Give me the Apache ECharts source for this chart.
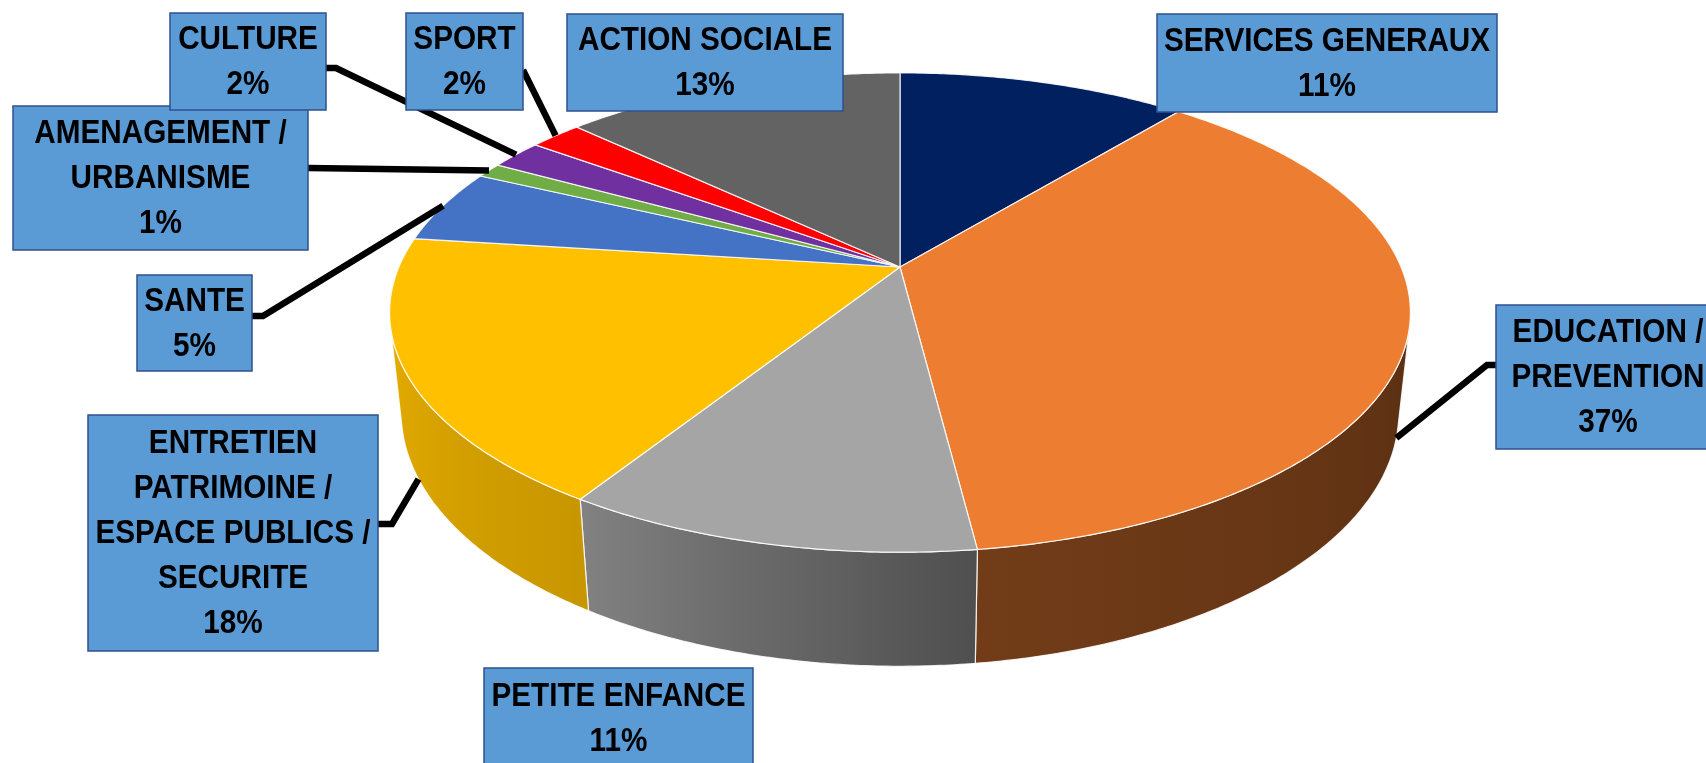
<!DOCTYPE html>
<html>
<head>
<meta charset="utf-8">
<script src="https://cdn.jsdelivr.net/npm/echarts@6/dist/echarts.min.js"></script>
<style>
  html, body { margin: 0; padding: 0; background: #fff; }
  #main { width: 1706px; height: 763px; }
</style>
</head>
<body>
<div id="main"></div>
<script>
// données (en %)
const categories = [
  'SERVICES GENERAUX',
  'EDUCATION /\nPREVENTION',
  'PETITE ENFANCE',
  'ENTRETIEN\nPATRIMOINE /\nESPACE PUBLICS /\nSECURITE',
  'SANTE',
  'AMENAGEMENT /\nURBANISME',
  'CULTURE',
  'SPORT',
  'ACTION SOCIALE'
];
const values = [11, 37, 11, 18, 5, 1, 2, 2, 13];
const colors = ['#002060', '#ED7D31', '#A5A5A5', '#FFC000', '#4472C4', '#70AD47', '#7030A0', '#FF0000', '#636363'];

// position des étiquettes : [x, y, largeur, hauteur]
const labelBoxes = [
  [1157, 14, 340, 98],
  [1496, 305, 224, 144],
  [484, 668, 269, 100],
  [88, 415, 290, 236],
  [137, 275, 115, 96],
  [13, 106, 295, 144],
  [170, 13, 156, 97],
  [406, 13, 117, 97],
  [567, 14, 276, 97]
];
// départ des traits de rappel (côté étiquette)
const leaderStarts = [
  null,
  [[1496, 365], [1487, 365]],
  null,
  [[378, 524], [392, 524]],
  [[252, 316], [263, 316]],
  [[308, 168]],
  [[326, 68], [336, 68]],
  [[523, 70]],
  null
];

// vue 3D (perspective simple)
const view = { cx: 900, cy: 267, F: 2340, d: 4.67, sa: 0.461, ca: 0.8874, h: 0.228 };

function proj(theta, r, y) {
  const x = r * Math.sin(theta);
  const z = -r * Math.cos(theta);
  const depth = view.d - (y * view.sa + z * view.ca);
  const yc = y * view.ca - z * view.sa;
  return [view.cx + view.F * x / depth, view.cy - view.F * yc / depth];
}

const total = values.reduce((a, b) => a + b, 0);
const starts = [], ends = [];
let acc = 0;
values.forEach(v => {
  starts.push(acc / total * Math.PI * 2);
  acc += v;
  ends.push(acc / total * Math.PI * 2);
});

// partie visible du côté
const zs = 1 / (view.d * view.ca);
const vis0 = Math.acos(-zs);
const vis1 = Math.PI * 2 - vis0;

// éclairage du côté selon l'angle
const shadeKeys = [[100, 0.38], [173, 0.48], [212, 0.78], [260, 0.9]];
function shadeFactor(theta) {
  const deg = theta * 180 / Math.PI;
  if (deg <= shadeKeys[0][0]) return shadeKeys[0][1];
  for (let i = 1; i < shadeKeys.length; i++) {
    if (deg <= shadeKeys[i][0]) {
      const t = (deg - shadeKeys[i - 1][0]) / (shadeKeys[i][0] - shadeKeys[i - 1][0]);
      return shadeKeys[i - 1][1] + t * (shadeKeys[i][1] - shadeKeys[i - 1][1]);
    }
  }
  return shadeKeys[shadeKeys.length - 1][1];
}
function shade(hex, f) {
  const n = parseInt(hex.slice(1), 16);
  const r = Math.round(((n >> 16) & 255) * f);
  const g = Math.round(((n >> 8) & 255) * f);
  const b = Math.round((n & 255) * f);
  return 'rgb(' + r + ',' + g + ',' + b + ')';
}

const step = Math.PI / 360;

function renderItem(params, api) {
  const i = params.dataIndex;
  const a0 = starts[i], a1 = ends[i];
  const color = colors[i];
  const children = [];

  // dessus
  const top = [proj(0, 0, 0)];
  const n = Math.max(2, Math.ceil((a1 - a0) / step));
  for (let k = 0; k <= n; k++) top.push(proj(a0 + (a1 - a0) * k / n, 1, 0));
  children.push({
    type: 'polygon', z2: 10,
    shape: { points: top },
    style: { fill: color, stroke: 'rgba(255,255,255,0.85)', lineWidth: 1.2 }
  });

  // côté
  const w0 = Math.max(a0, vis0), w1 = Math.min(a1, vis1);
  if (w1 > w0) {
    const m = Math.max(2, Math.ceil((w1 - w0) / step));
    const upper = [], lower = [];
    for (let k = 0; k <= m; k++) {
      const t = w0 + (w1 - w0) * k / m;
      upper.push(proj(t, 1, 0));
      lower.push(proj(t, 1, -view.h));
    }
    const pts = upper.concat(lower.reverse());
    const xs = pts.map(p => p[0]);
    const minX = Math.min.apply(null, xs), maxX = Math.max.apply(null, xs);
    const stops = [];
    for (let k = 0; k <= 6; k++) {
      const t = w0 + (w1 - w0) * k / 6;
      const px = proj(t, 1, -view.h / 2)[0];
      stops.push({ offset: Math.min(1, Math.max(0, (px - minX) / (maxX - minX))), color: shade(color, shadeFactor(t)) });
    }
    stops.sort((p, q) => p.offset - q.offset);
    children.push({
      type: 'polygon', z2: 5,
      shape: { points: pts },
      style: {
        fill: new echarts.graphic.LinearGradient(0, 0, 1, 0, stops),
        stroke: 'rgba(255,255,255,0.85)', lineWidth: 1.2
      }
    });
  }

  // trait de rappel
  if (leaderStarts[i]) {
    const mid = (a0 + a1) / 2;
    const anchor = (mid > vis0 && mid < vis1) ? proj(mid, 1, -view.h) : proj(mid, 1, 0);
    children.push({
      type: 'polyline', z2: 20,
      shape: { points: leaderStarts[i].concat([anchor]) },
      style: { stroke: '#000', lineWidth: 6.5, fill: null }
    });
  }

  // étiquette
  const b = labelBoxes[i];
  const pct = Math.round(values[i] / total * 100) + '%';
  children.push({
    type: 'rect', z2: 30 + i * 2,
    shape: { x: b[0], y: b[1], width: b[2], height: b[3] },
    style: { fill: '#5B9BD5', stroke: '#2F528F', lineWidth: 1.5 }
  });
  children.push({
    type: 'text', z2: 31 + i * 2,
    x: b[0] + b[2] / 2, y: b[1] + b[3] / 2 + 1,
    scaleX: 0.9,
    style: {
      text: categories[i] + '\n' + pct,
      x: 0, y: 0,
      fill: '#000',
      font: 'bold 33px "Liberation Sans", Arial, sans-serif',
      align: 'center', verticalAlign: 'middle',
      textAlign: 'center', textVerticalAlign: 'middle',
      lineHeight: 45
    }
  });

  return { type: 'group', children: children };
}

const myChart = echarts.init(document.getElementById('main'));
myChart.setOption({
  backgroundColor: '#fff',
  animation: false,
  series: [{
    type: 'custom',
    coordinateSystem: 'none',
    renderItem: renderItem,
    data: values
  }]
});
</script>
</body>
</html>
